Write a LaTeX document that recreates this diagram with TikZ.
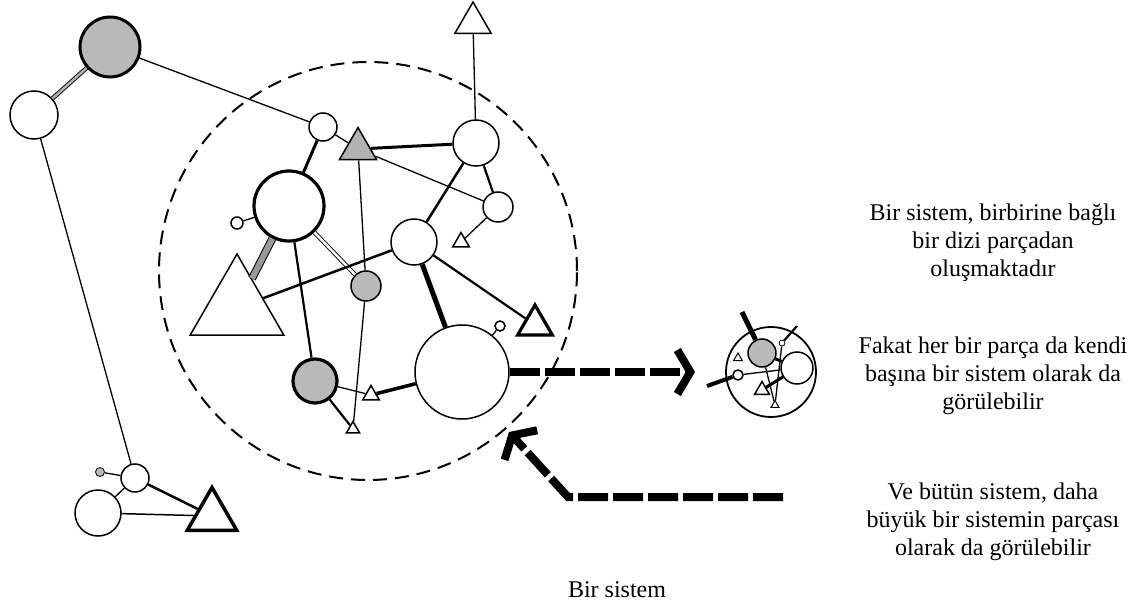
\documentclass[tikz,border=0pt]{standalone}
\usepackage{fontspec}
\setmainfont{Liberation Serif}
\usetikzlibrary{shapes.geometric,arrows.meta}

\begin{document}
\begin{tikzpicture}[x=1pt,y=-1pt,
                    circ/.style = {circle,draw,fill=white,inner sep=0pt,line width=1.5pt,minimum size=#1},
                    gcirc/.style = {circ=#1,fill=gray!55},
                    tri/.style = {regular polygon,regular polygon sides=3,draw,fill=white,inner sep=0pt,line width=1.5pt,minimum size=#1},
                    thinline/.style = {line width=1.3pt},
                    medline/.style = {line width=2.2pt},
                    thickline/.style = {line width=3pt},
                    band/.style = {line width=0.9pt,double=#1,double distance=2.5pt},
                    bigdash/.style = {line width=8pt,dash pattern=on 30pt off 5pt,-{Straight Barb[length=13pt,width=44pt]}},
                    txt/.style = {align=center,font=\fontsize{24}{28}\selectfont}]
                    \useasboundingbox (0,0) rectangle (1141,607);

                    % the system boundary
                    \draw[line width=2pt,dash pattern=on 14pt off 8pt] (368,271) circle [radius=209pt];

                    % parts outside
                    \node[gcirc=60pt,line width=3pt] (S) at (110,47) {};
                    \node[circ=48pt] (W) at (34,115) {};
                    \node[tri=42pt] (T) at (473,23) {};
                    \node[circ=28pt] (b1) at (135,478) {};
                    \node[gcirc=9pt,line width=0.8pt] (b0) at (100,472) {};
                    \node[circ=46pt] (b2) at (98,513) {};
                    \node[tri=57pt,line width=3.5pt] (BT) at (212,516) {};

                    % parts inside
                    \node[circ=28pt] (A) at (323,127) {};
                    \node[tri=43pt,fill=gray!60] (gT) at (358,149) {};
                    \node[circ=46pt] (C) at (476,143) {};
                    \node[circ=30pt] (D) at (498,207) {};
                    \node[tri=19pt] (E) at (461,242) {};
                    \node[circ=70pt,line width=3.2pt] (F) at (289,206) {};
                    \node[circ=12pt] (f) at (237,223) {};
                    \node[tri=108pt] (G) at (237,308) {};
                    \node[circ=46pt] (H) at (414,242) {};
                    \node[gcirc=30pt] (I) at (366,286) {};
                    \node[tri=40pt,line width=3.2pt] (J) at (535,325) {};
                    \node[circ=94pt] (K) at (462,372) {};
                    \node[circ=10pt] (k) at (500,326) {};
                    \node[gcirc=44pt,line width=3.2pt] (L) at (315,381) {};
                    \node[tri=19pt] (M) at (371,395) {};
                    \node[tri=15pt] (N) at (353,429) {};

                    \draw[band=gray!60] (S) -- (W);
                    \draw[thinline] (S) -- (A);
                    \draw[thinline] (W) -- (b1);
                    \draw[thinline] (b1) -- (b0);
                    \draw[thinline] (b1) -- (b2);
                    \draw[line width=2.5pt] (b1) -- (BT);
                    \draw[line width=1.5pt] (b2) -- (BT);
                    \draw[thinline] (C) -- (T);

                    \draw[thinline] (A) -- (gT);
                    \draw[thickline] (A) -- (F);
                    \draw[thickline] (gT) -- (C);
                    \draw[thinline] (gT) -- (D);
                    \draw[thinline] (gT) -- (I);
                    \draw[thinline] (I) -- (N);
                    \draw[medline] (C) -- (D);
                    \draw[line width=2.5pt] (C) -- (H);
                    \draw[thinline] (D) -- (E);
                    \draw[thinline] (F) -- (f);
                    \draw[line width=1pt,double=gray!80,double distance=6pt] (F) -- (G);
                    \draw[band=white] (F) -- (I);
                    \draw[medline] (F) -- (L);
                    \draw[line width=2.5pt] (G) -- (H);
                    \draw[line width=5pt] (H) -- (K);
                    \draw[medline] (H) -- (J);
                    \draw[line width=3.5pt] (K) -- (M);
                    \draw[thinline] (L) -- (M);
                    \draw[medline] (L) -- (N);
                    \draw[thinline] (K) -- (k);

                    % each part is a system too
                    \node[circ=90pt,line width=1.8pt] (m0) at (771,372) {};
                    \node[gcirc=28pt] (m1) at (762,353) {};
                    \node[circ=32pt] (m2) at (797,368) {};
                    \node[circ=10pt] (m3) at (738,375) {};
                    \node[circ=6pt,line width=0.8pt] (m4) at (782,343) {};
                    \node[tri=10pt,line width=1pt] (m5) at (738,358) {};
                    \node[tri=17pt] (m6) at (762,390) {};
                    \node[tri=9pt,line width=1pt] (m7) at (775,405) {};
                    \coordinate (mo1) at (742,312);
                    \coordinate (mo2) at (707,386);
                    \coordinate (mo3) at (797,326);
                    \draw[line width=5pt] (mo1) -- (m1);
                    \draw[line width=4pt] (mo2) -- (m3);
                    \draw[medline] (mo3) -- (m4);
                    \draw[thinline] (m4) -- (m7);
                    \draw[thickline] (m1) -- (m2);
                    \draw[thinline] (m3) -- (m2);
                    \draw[thickline] (m2) -- (m6);
                    \draw[thinline] (m1) -- (m7);

                    % the arrows
                    \coordinate (rtip) at (695,372);
                    \coordinate (in1) at (783,497);
                    \coordinate (bend) at (568,497);
                    \coordinate (ltip) at (509,432);
                    \draw[bigdash] (K) -- (rtip);
                    \draw[bigdash] (in1) -- (bend) -- (ltip);

                    % the texts
                    \node[txt] (t1) at (993,243) {Bir sistem, birbirine bağlı\\bir dizi parçadan\\oluşmaktadır};
                    \node[txt] (t2) at (993,376) {Fakat her bir parça da kendi\\başına bir sistem olarak da\\görülebilir};
                    \node[txt] (t3) at (993,522) {Ve bütün sistem, daha\\büyük bir sistemin parçası\\olarak da görülebilir};
                    \node[txt] (cap) at (617,590) {Bir sistem};
                \end{tikzpicture}
\end{document}
